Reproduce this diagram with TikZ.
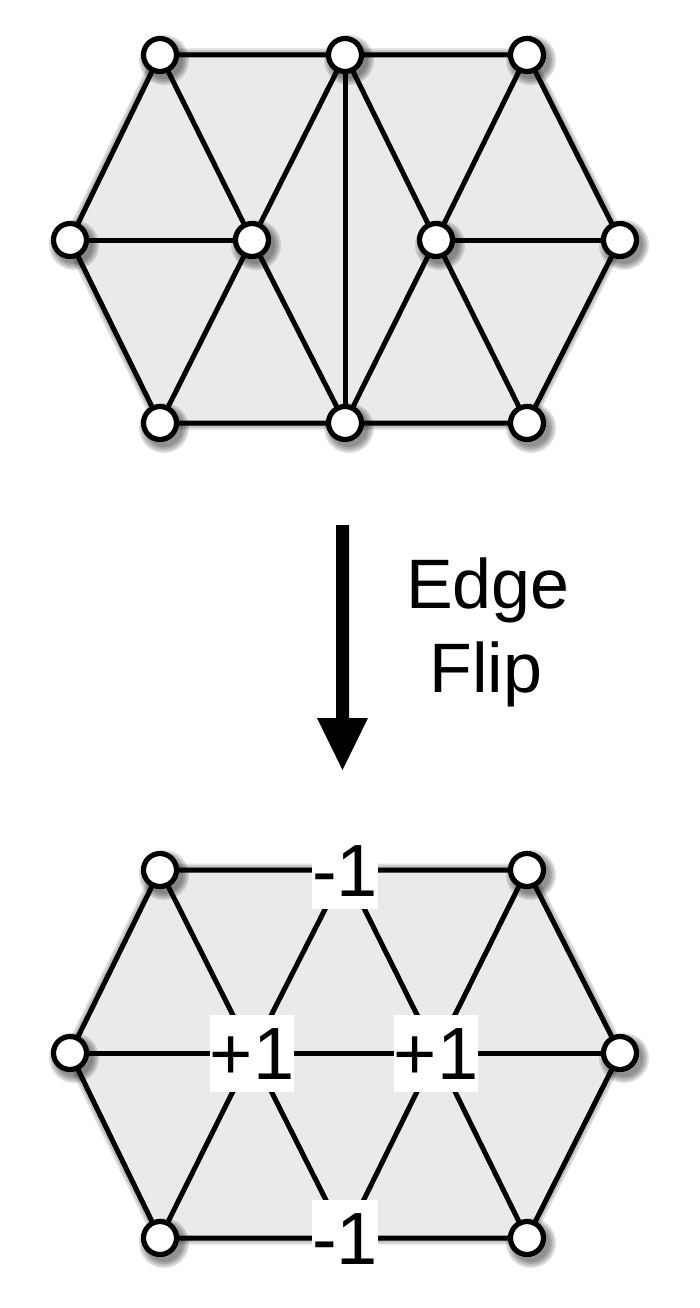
\documentclass[tikz,border=0pt]{standalone}
\usepackage{fontspec}
\setmainfont{Liberation Sans}
\definecolor{meshfill}{HTML}{EAEAEA}
\tikzset{
  vtx/.style={circle, draw=black, line width=5.2pt, fill=white, minimum size=33pt, inner sep=0pt},
  edge/.style={line width=5pt, line cap=round, line join=round},
  hexfill/.style={fill=meshfill},
  shade layer/.style={black, opacity=0.13, line join=round},
  lbl/.style={fill=white, font=\fontsize{74}{74}\selectfont, inner xsep=0pt, inner ysep=12pt, text height=53pt, text depth=0pt},
  caption/.style={font=\fontsize{70}{84}\selectfont, anchor=base},
  bigarrow/.style={fill=black}
}
\begin{document}
\begin{tikzpicture}[x=1pt, y=-1pt]
\useasboundingbox (0,0) rectangle (700,1308);
% ---------- top mesh ----------
\coordinate (a1) at (160,55);
\coordinate (a2) at (345,55);
\coordinate (a3) at (527,55);
\coordinate (b1) at (70,240);
\coordinate (b2) at (252,240);
\coordinate (b3) at (436,240);
\coordinate (b4) at (620,240);
\coordinate (c1) at (160,423);
\coordinate (c2) at (345,423);
\coordinate (c3) at (527,423);
\foreach \w in {13,9,5}
  \draw[shade layer, line width=\w pt, shift={(4,5)}] (a1) -- (a3) -- (b4) -- (c3) -- (c1) -- (b1) -- cycle;
\fill[hexfill] (a1) -- (a3) -- (b4) -- (c3) -- (c1) -- (b1) -- cycle;
\draw[edge] (a1) -- (a3) -- (b4) -- (c3) -- (c1) -- (b1) -- cycle;
\draw[edge] (a1) -- (b2) -- (a2) -- (b3) -- (a3);
\draw[edge] (c1) -- (b2) -- (c2) -- (b3) -- (c3);
\draw[edge] (b1) -- (b2);
\draw[edge] (b3) -- (b4);
\draw[edge] (a2) -- (c2);
\foreach \n in {a1,a2,a3,b1,b2,b3,b4,c1,c2,c3}{
  \foreach \r in {25,23,21,19}
    \fill[shade layer] ([shift={(4,5)}]\n) circle (\r pt);
  \node[vtx] (v\n) at (\n) {};
}
% ---------- arrow and caption ----------
\coordinate (arrtop) at (342.5,525);
\coordinate (arrtip) at (342.5,770);
\fill[bigarrow] ([xshift=-6.5pt]arrtop) -- ([xshift=6.5pt]arrtop)
  -- ([xshift=6.5pt,yshift=52pt]arrtip) -- ([xshift=25.5pt,yshift=52pt]arrtip)
  -- (arrtip) -- ([xshift=-25.5pt,yshift=52pt]arrtip)
  -- ([xshift=-6.5pt,yshift=52pt]arrtip) -- cycle;
\node[caption] (cap1) at (488,608) {Edge};
\node[caption] (cap2) at (486,692) {Flip};
% ---------- bottom mesh ----------
\coordinate (d1) at (160,870);
\coordinate (d2) at (345,870);
\coordinate (d3) at (527,870);
\coordinate (e1) at (70,1053);
\coordinate (e2) at (252,1053);
\coordinate (e3) at (436,1053);
\coordinate (e4) at (620,1053);
\coordinate (f1) at (160,1238);
\coordinate (f2) at (345,1238);
\coordinate (f3) at (527,1238);
\foreach \w in {13,9,5}
  \draw[shade layer, line width=\w pt, shift={(4,5)}] (d1) -- (d3) -- (e4) -- (f3) -- (f1) -- (e1) -- cycle;
\fill[hexfill] (d1) -- (d3) -- (e4) -- (f3) -- (f1) -- (e1) -- cycle;
\draw[edge] (d1) -- (d3) -- (e4) -- (f3) -- (f1) -- (e1) -- cycle;
\draw[edge] (d1) -- (e2) -- (d2) -- (e3) -- (d3);
\draw[edge] (f1) -- (e2) -- (f2) -- (e3) -- (f3);
\draw[edge] (e1) -- (e4);
\foreach \n in {d1,d3,e1,e4,f1,f3}{
  \foreach \r in {25,23,21,19}
    \fill[shade layer] ([shift={(4,5)}]\n) circle (\r pt);
  \node[vtx] (v\n) at (\n) {};
}
\node[lbl] (l1) at (d2) {-1};
\node[lbl] (l2) at (e2) {+1};
\node[lbl] (l3) at (e3) {+1};
\node[lbl] (l4) at (f2) {-1};
\end{tikzpicture}
\end{document}
